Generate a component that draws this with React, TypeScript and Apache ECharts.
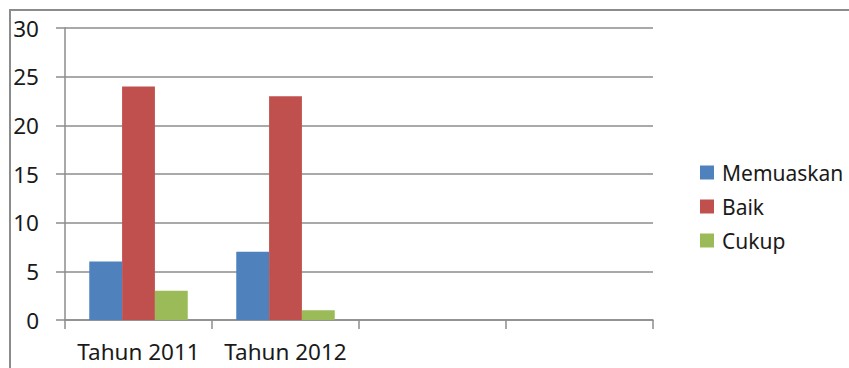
import React, { useEffect, useRef } from "react";
import * as echarts from "echarts";

const categories = ["Tahun 2011", "Tahun 2012", "", ""];
const memuaskan = [6, 7, null, null];
const baik = [24, 23, null, null];
const cukup = [3, 1, null, null];
const seriesNames = ["Memuaskan", "Baik", "Cukup"];
const colors = ["#4F81BD", "#C0504D", "#9BBB59"];

export default function App() {
  const ref = useRef<HTMLDivElement>(null);
  useEffect(() => {
    if (!ref.current) return;
    const chart = echarts.init(ref.current, null, { renderer: "svg" });
    const font = "'Noto Sans', sans-serif";
    const values = [memuaskan, baik, cukup];
    chart.setOption({
      animation: false,
      backgroundColor: "#ffffff",
      grid: { left: 65, right: 196, top: 28, bottom: 48, containLabel: false },
      graphic: [
        {
          type: "rect",
          shape: { x: 10, y: 10, width: 900, height: 400 },
          style: { fill: "none", stroke: "#8c8c8c", lineWidth: 2 },
          silent: true,
        },
      ],
      legend: {
        orient: "vertical",
        left: 700,
        top: 162,
        padding: 0,
        itemWidth: 14,
        itemHeight: 14,
        itemGap: 13,
        icon: "rect",
        data: seriesNames,
        textStyle: {
          fontFamily: font,
          fontSize: 21,
          lineHeight: 20,
          color: "#1a1a1a",
          padding: [0, 0, 0, 3],
        },
      },
      xAxis: {
        type: "category",
        data: categories,
        axisLine: { show: true, lineStyle: { color: "#8c8c8c", width: 1.5 } },
        axisTick: { show: true, length: 9, interval: 0, lineStyle: { color: "#8c8c8c", width: 1.5 } },
        axisLabel: {
          interval: 0,
          margin: 20,
          fontFamily: font,
          fontSize: 22.5,
          color: "#1a1a1a",
        },
        splitLine: { show: false },
      },
      yAxis: {
        type: "value",
        min: 0,
        max: 30,
        interval: 5,
        axisLine: { show: true, lineStyle: { color: "#8c8c8c", width: 1.5 } },
        axisTick: { show: true, length: 9, lineStyle: { color: "#8c8c8c", width: 1.5 } },
        axisLabel: {
          margin: 26,
          fontFamily: font,
          fontSize: 22.5,
          color: "#1a1a1a",
        },
        splitLine: { show: true, lineStyle: { color: "#8c8c8c", width: 1.5 } },
      },
      series: seriesNames.map((name, i) => ({
        name,
        type: "bar",
        data: values[i],
        barGap: "0%",
        barCategoryGap: "33%",
        itemStyle: { color: colors[i] },
      })),
    });
    return () => chart.dispose();
  }, []);
  return (
    <div
      ref={ref}
      style={{ position: "fixed", left: 0, top: 0, width: 849, height: 368 }}
    />
  );
}
